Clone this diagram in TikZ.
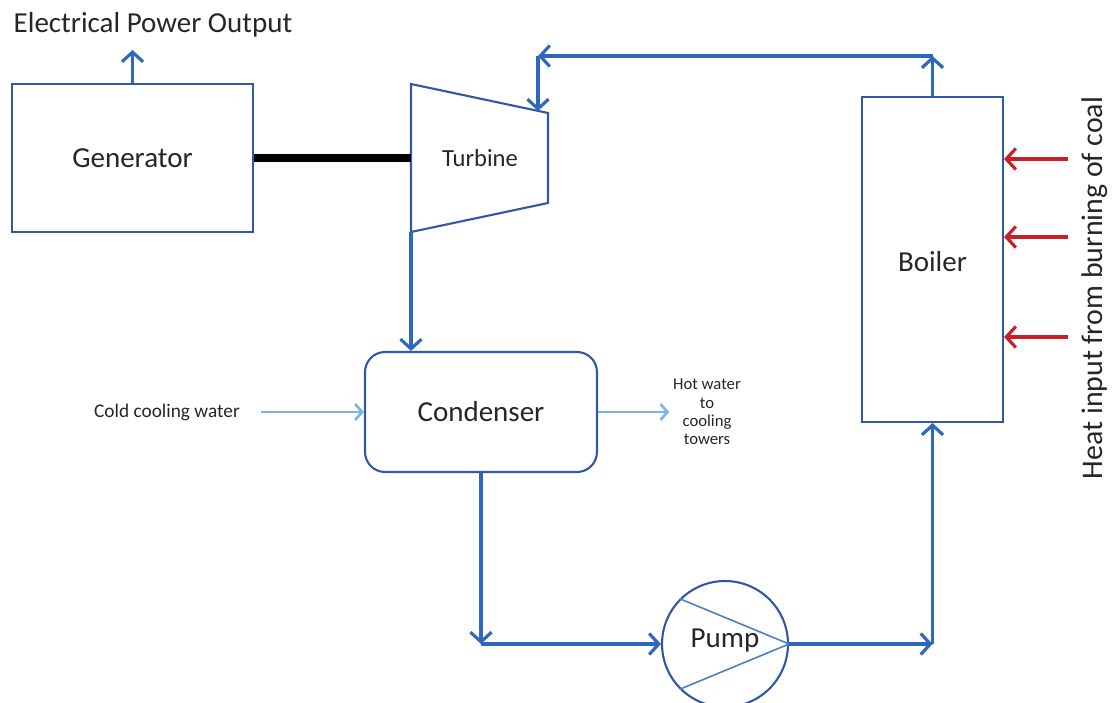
\documentclass[tikz,border=0pt]{standalone}
\usepackage{fontspec}
\setmainfont{Carlito}
\usetikzlibrary{arrows.meta,positioning}
\definecolor{boxblue}{RGB}{50,88,165}
\definecolor{flowblue}{RGB}{46,104,190}
\definecolor{waterblue}{RGB}{125,178,232}
\definecolor{heatred}{RGB}{200,32,38}
\definecolor{inkgrey}{RGB}{38,38,38}
\begin{document}
\begin{tikzpicture}[x=0.02cm, y=-0.02cm,
  every node/.style={text=inkgrey},
  unit/.style={draw=boxblue, line width=1.2pt, fill=white, font=\fontsize{16.5}{19}\selectfont},
  flow/.style={draw=flowblue, line width=1.8pt, -{Straight Barb[length=5.5pt,width=12pt,line width=1.8pt]}},
  water/.style={draw=waterblue, line width=1.5pt, -{Straight Barb[length=4pt,width=9pt,line width=1.5pt]}},
  heat/.style={draw=heatred, line width=1.8pt, -{Straight Barb[length=5.5pt,width=12pt,line width=1.8pt]}},
  shaft/.style={draw=black, line width=4pt},
  vane/.style={draw=flowblue!85, line width=0.9pt}]
\useasboundingbox (0,0) rectangle (1113,703);
% units
\node[unit, minimum width=4.82cm, minimum height=2.96cm] (gen) at (132.5,158) {Generator};
\node[unit, rounded corners=0.4cm, minimum width=4.64cm, minimum height=2.4cm] (cond) at (481,412) {Condenser};
\node[unit, minimum width=2.82cm, minimum height=6.5cm] (boiler) at (932.5,259.5) {};
\node[font=\fontsize{16.5}{19}\selectfont] (boilertxt) at (932.5,262) {Boiler};
\node[unit, circle, minimum size=2.52cm, inner sep=0pt] (pump) at (725,644) {};
% turbine casing
\coordinate (t1) at (411,84);
\coordinate (t2) at (548,113);
\coordinate (t3) at (548,203);
\coordinate (t4) at (411,232);
\draw[draw=boxblue, line width=1.2pt] (t1) -- (t2) -- (t3) -- (t4) -- cycle;
\node[font=\fontsize{14}{17}\selectfont] (turb) at (480,158) {Turbine};
% pump vanes
\draw[vane] (pump.135) -- (pump.east);
\draw[vane] (pump.225) -- (pump.east);
\node[font=\fontsize{16.5}{19}\selectfont] (pumptxt) at (725,641) {Pump};
% labels
\node[font=\fontsize{16.5}{19}\selectfont] (epo) at (153,25) {Electrical Power Output};
\node[font=\fontsize{11}{13}\selectfont] (cold) at (167,412) {Cold cooling water};
\node[font=\fontsize{9.5}{10.4}\selectfont, align=center, inner sep=2pt] (hot) at (707,412) {Hot water\\to\\cooling\\towers};
\node[font=\fontsize{17}{20}\selectfont, rotate=90] (heattxt) at (1095,288) {Heat input from burning of coal};
% shaft and power
\coordinate (pwr) at (132.5,50);
\draw[flow] (gen.north) -- (pwr);
\draw[shaft] (gen.east) -- (gen.east -| t1);
% steam / water loop
\coordinate (c1) at (481,644);
\coordinate (c2) at (932.5,644);
\coordinate (c3) at (932.5,56);
\coordinate (c4) at (538,56);
\coordinate (c5) at (538,111);
\draw[flow] (t4) -- (cond.north -| t4);
\draw[flow] (cond.south) -- (c1);
\draw[flow] (c1) -- (pump.west);
\draw[flow] (pump.east) -- (c2);
\draw[flow] (c2) -- (boiler.south);
\draw[flow] (boiler.north) -- (c3);
\draw[flow] (c3) -- (c4);
\draw[flow] (c4) -- (c5);
% cooling water
\draw[water] ([xshift=0.3cm]cold.east) -- (cond.west);
\draw[water] (cond.east) -- (hot.west);
% heat input
\coordinate (h1) at (1068,159);
\coordinate (h2) at (1068,237);
\coordinate (h3) at (1068,337);
\draw[heat] (h1) -- (h1 -| boiler.east);
\draw[heat] (h2) -- (h2 -| boiler.east);
\draw[heat] (h3) -- (h3 -| boiler.east);
\end{tikzpicture}
\end{document}
